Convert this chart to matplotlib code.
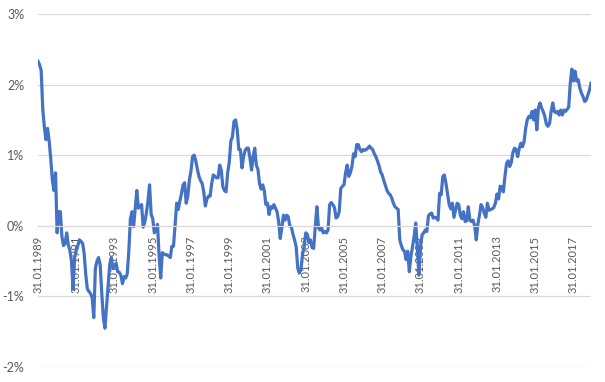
import numpy as np
import pandas as pd
import matplotlib
matplotlib.use("Agg")
import matplotlib.pyplot as plt
from matplotlib.ticker import FuncFormatter, MultipleLocator

# monthly values in percent, Jan 1989 .. Dec 2017
y1989 = [2.33, 2.28, 2.2, 1.65, 1.4, 1.22, 1.38, 1.2, 0.95, 0.65, 0.5, 0.75]
y1990 = [-0.1, 0.2, 0.2, -0.15, -0.28, -0.25, -0.1, -0.27, -0.35, -0.5, -0.9, -0.45]
y1991 = [-0.35, -0.28, -0.2, -0.22, -0.25, -0.4, -0.7, -0.9, -0.93, -0.96, -1.02, -1.3]
y1992 = [-0.6, -0.5, -0.45, -0.55, -0.95, -1.3, -1.45, -1.15, -0.85, -0.55, -0.45, -0.6]
y1993 = [-0.58, -0.53, -0.65, -0.66, -0.7, -0.82, -0.72, -0.74, -0.68, -0.35, 0.1, 0.2]
y1994 = [-0.01, 0.25, 0.5, 0.25, 0.28, 0.3, -0.02, 0.05, 0.18, 0.35, 0.58, 0.16]
y1995 = [0.1, -0.1, -0.05, 0.02, -0.43, -0.74, -0.38, -0.4, -0.41, -0.41, -0.43, -0.45]
y1996 = [-0.29, -0.29, 0.0, 0.32, 0.23, 0.35, 0.45, 0.58, 0.61, 0.32, 0.42, 0.65]
y1997 = [0.78, 0.98, 1.0, 0.92, 0.8, 0.7, 0.64, 0.6, 0.48, 0.28, 0.38, 0.42]
y1998 = [0.42, 0.6, 0.72, 0.7, 0.68, 0.68, 0.86, 0.79, 0.55, 0.5, 0.48, 0.75]
y1999 = [0.9, 1.2, 1.26, 1.48, 1.5, 1.36, 1.08, 1.08, 0.82, 0.98, 1.07, 1.1]
y2000 = [1.1, 0.96, 0.79, 0.98, 1.1, 0.86, 0.8, 0.6, 0.52, 0.58, 0.5, 0.3]
y2001 = [0.32, 0.16, 0.27, 0.25, 0.3, 0.25, 0.2, 0.06, -0.18, -0.03, 0.15, 0.08]
y2002 = [0.15, 0.13, 0.0, -0.02, -0.12, -0.2, -0.3, -0.6, -0.67, -0.62, -0.4, -0.3]
y2003 = [-0.1, -0.12, -0.24, -0.2, -0.31, -0.32, 0.0, 0.27, -0.03, -0.06, -0.03, -0.1]
y2004 = [-0.08, -0.1, -0.06, 0.3, 0.33, 0.3, 0.26, 0.11, 0.13, 0.2, 0.53, 0.56]
y2005 = [0.58, 0.75, 0.86, 0.7, 0.75, 0.84, 1.02, 0.98, 1.15, 1.15, 1.08, 1.05]
y2006 = [1.08, 1.07, 1.08, 1.1, 1.13, 1.1, 1.08, 1.02, 0.98, 0.92, 0.85, 0.76]
y2007 = [0.72, 0.64, 0.57, 0.5, 0.46, 0.44, 0.39, 0.32, 0.27, 0.25, 0.23, -0.2]
y2008 = [-0.28, -0.34, -0.36, -0.48, -0.36, -0.65, -0.43, -0.3, -0.15, 0.04, -0.3, -0.7]
y2009 = [-0.3, -0.13, -0.1, -0.06, -0.08, 0.14, 0.17, 0.18, 0.11, 0.12, 0.11, 0.08]
y2010 = [0.46, 0.44, 0.7, 0.72, 0.6, 0.45, 0.3, 0.24, 0.32, 0.12, 0.22, 0.32]
y2011 = [0.3, 0.15, 0.1, 0.2, 0.06, 0.07, 0.27, 0.08, 0.06, 0.08, 0.0, -0.2]
y2012 = [0.02, 0.15, 0.3, 0.26, 0.18, 0.12, 0.32, 0.22, 0.23, 0.24, 0.26, 0.32]
y2013 = [0.45, 0.38, 0.56, 0.55, 0.48, 0.7, 0.88, 0.92, 0.84, 0.9, 1.04, 1.1]
y2014 = [1.08, 0.98, 1.1, 1.17, 1.12, 1.19, 1.38, 1.5, 1.55, 1.53, 1.62, 1.5]
y2015 = [1.64, 1.36, 1.67, 1.74, 1.67, 1.62, 1.55, 1.44, 1.41, 1.45, 1.62, 1.74]
y2016 = [1.62, 1.6, 1.62, 1.57, 1.64, 1.57, 1.64, 1.62, 1.65, 1.68, 2.02, 2.22]
y2017 = [2.05, 2.19, 2.05, 2.07, 1.95, 1.88, 1.83, 1.76, 1.78, 1.85, 1.92, 2.02]

values = (y1989 + y1990 + y1991 + y1992 + y1993 + y1994 + y1995 + y1996 + y1997
          + y1998 + y1999 + y2000 + y2001 + y2002 + y2003 + y2004 + y2005 + y2006
          + y2007 + y2008 + y2009 + y2010 + y2011 + y2012 + y2013 + y2014 + y2015
          + y2016 + y2017)

dates = pd.date_range("1989-01-31", periods=len(values), freq="ME")
labels = [d.strftime("%d.%m.%Y") for d in dates]
pos = np.arange(len(values))

fig = plt.figure(figsize=(6.05, 3.82), dpi=100)
ax = fig.add_axes([38 / 605, 15 / 382, 553 / 605, 353 / 382])

# horizontal axis crosses at 0% (set before the ticks, it resets them)
ax.spines["bottom"].set_position(("data", 0))
ax.spines["bottom"].set_color("#d9d9d9")
for s in ["top", "right", "left"]:
    ax.spines[s].set_visible(False)

ax.plot(pos, values, color="#4472C4", lw=2.3, solid_joinstyle="round")

ax.set_xlim(0, len(values) - 1)
ax.set_ylim(-2, 3)
ax.yaxis.set_major_locator(MultipleLocator(1))
ax.yaxis.set_major_formatter(FuncFormatter(lambda v, p: f"{v:.0f}%"))
ax.grid(axis="y", color="#d9d9d9", lw=0.9)
ax.set_axisbelow(True)

# category labels every 2 years
tick_pos = pos[::24]
ax.set_xticks(tick_pos)
ax.set_xticklabels([labels[i] for i in tick_pos], rotation=90,
                   fontsize=8, color="#595959", family="Lato")
ax.tick_params(axis="x", length=0, pad=7)
ax.tick_params(axis="y", length=0, pad=10, labelsize=9, labelcolor="#595959")
for t in ax.get_yticklabels():
    t.set_family("Lato")

fig.savefig("out.png", dpi=100)
